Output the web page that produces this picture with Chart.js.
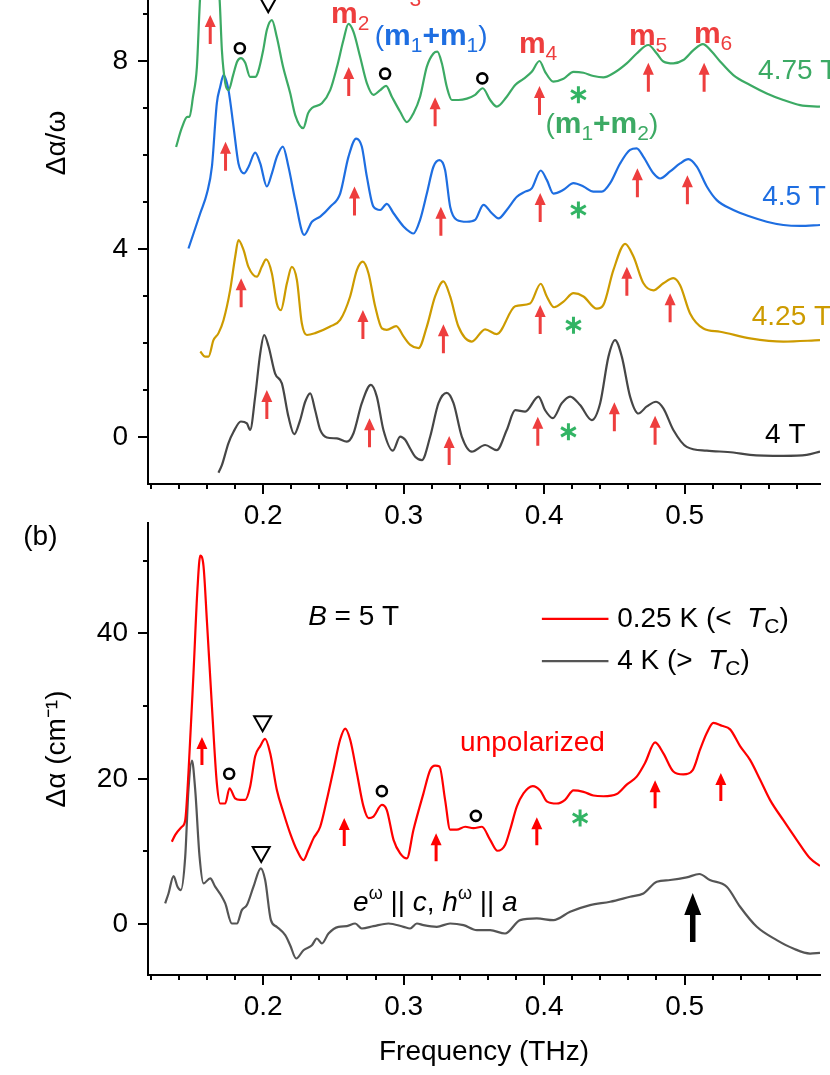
<!DOCTYPE html>
<html>
<head>
<meta charset="utf-8">
<script src="https://cdn.jsdelivr.net/npm/chart.js@4.4.1/dist/chart.umd.min.js"></script>
<style>
  body { margin: 0; background: #fff; width: 830px; height: 1075px; overflow: hidden; position: relative; }
  canvas { position: absolute; left: 0; }
  #chartA { top: -200px; }
  #chartB { top: 505px; }
</style>
</head>
<body>
<canvas id="chartA" width="830" height="735"></canvas>
<canvas id="chartB" width="830" height="570"></canvas>
<script>
const FONT = "'Liberation Sans', Arial, sans-serif"
Chart.defaults.font.family = FONT
Chart.defaults.color = '#000'

// ---------- panel (a): Δα/ω, curves offset by field ----------
const fieldLabels = ['4.75 T', '4.5 T', '4.25 T', '4 T']

const x475 = [0.138,0.142,0.146,0.1475,0.150,0.1528,0.155,0.158,0.162,0.1655,0.169,0.1706,0.173,0.1753,0.1786,0.1815,0.1841,0.1872,0.1907,0.1943,0.1964,0.2,0.2026,0.2062,0.2097,0.2142,0.2192,0.2228,0.2285,0.232,0.2347,0.2418,0.2477,0.2525,0.2572,0.2607,0.2643,0.269,0.2738,0.2785,0.2833,0.2875,0.2916,0.2975,0.3023,0.307,0.3117,0.3165,0.3212,0.324,0.3272,0.3307,0.3343,0.339,0.345,0.3509,0.3563,0.3616,0.3663,0.3734,0.3794,0.3853,0.3912,0.3967,0.4007,0.4066,0.4138,0.4209,0.428,0.4351,0.4422,0.4493,0.4588,0.4659,0.4742,0.4802,0.4849,0.492,0.4991,0.5063,0.513,0.5193,0.5253,0.5347,0.5466,0.5585,0.5703,0.5822,0.5964]
const y475 = [6.17,6.57,6.81,6.81,7.23,7.87,9.3,10.4,10.8,10.3,9.3,8.23,7.53,7.38,7.70,7.99,8.06,7.96,7.66,7.66,7.77,8.23,8.66,8.87,8.51,7.87,7.32,6.85,6.57,6.89,7.0,7.1,7.38,7.87,8.45,8.79,8.62,8.09,7.53,7.28,7.38,7.47,7.24,6.92,6.70,6.89,7.24,7.88,8.16,8.20,7.95,7.45,7.17,7.17,7.2,7.28,7.42,7.17,7.03,7.24,7.49,7.62,7.77,8.0,7.77,7.56,7.62,7.77,7.75,7.68,7.65,7.74,7.95,8.16,8.34,8.16,7.99,7.95,8.02,8.23,8.36,8.20,7.99,7.70,7.49,7.31,7.17,7.06,7.03]

const x450 = [0.1468,0.1504,0.1552,0.16,0.1635,0.167,0.1694,0.1718,0.1753,0.1789,0.1824,0.1865,0.1896,0.1943,0.1979,0.2026,0.2062,0.2097,0.214,0.218,0.2228,0.2292,0.2347,0.2406,0.2477,0.2548,0.2607,0.2662,0.2702,0.2738,0.2785,0.2833,0.288,0.2928,0.2999,0.3046,0.307,0.3117,0.3165,0.3212,0.3255,0.3295,0.3331,0.3378,0.345,0.3509,0.3568,0.3628,0.3675,0.3734,0.3806,0.3865,0.3912,0.3976,0.4019,0.4066,0.4138,0.4209,0.428,0.4351,0.4411,0.447,0.4541,0.4612,0.4659,0.4707,0.4778,0.4826,0.4897,0.4968,0.5027,0.5087,0.5158,0.5229,0.5347,0.5466,0.5585,0.5703,0.5822,0.5964]
const y450 = [4.01,4.33,4.76,5.19,5.75,7.10,7.45,7.70,7.38,6.60,5.82,5.61,5.75,6.05,5.82,5.33,5.61,5.96,6.18,5.75,5.04,4.30,4.58,4.69,4.90,5.18,5.96,6.35,6.18,5.54,4.90,4.83,4.96,4.76,4.48,4.36,4.33,4.62,5.18,5.75,5.89,5.68,4.90,4.62,4.58,4.62,4.94,4.76,4.65,4.83,5.11,5.22,5.29,5.67,5.47,5.18,5.26,5.40,5.33,5.22,5.22,5.40,5.82,6.11,6.14,5.96,5.61,5.50,5.65,5.82,5.91,5.75,5.33,5.04,4.83,4.69,4.58,4.51,4.49,4.51]

const x425 = [0.1552,0.1587,0.1611,0.1646,0.1682,0.1718,0.1765,0.1801,0.1824,0.186,0.1895,0.1955,0.199,0.2021,0.2062,0.2097,0.2126,0.2169,0.2204,0.224,0.2275,0.2311,0.237,0.2477,0.2548,0.2619,0.2667,0.2709,0.275,0.2797,0.2845,0.288,0.2947,0.2999,0.3047,0.3106,0.3165,0.3224,0.3283,0.3331,0.339,0.3485,0.358,0.3663,0.3794,0.39,0.3976,0.4019,0.4071,0.4138,0.4209,0.428,0.4375,0.4422,0.4493,0.4577,0.4636,0.4707,0.4778,0.4849,0.492,0.4968,0.5039,0.5134,0.5253,0.5466,0.5703,0.5964]
const y425 = [1.82,1.71,1.71,2.06,2.21,2.49,3.13,3.84,4.19,3.98,3.62,3.41,3.62,3.78,3.48,2.84,2.70,3.27,3.62,3.34,2.42,2.17,2.21,2.35,2.49,2.99,3.55,3.73,3.48,2.78,2.31,2.28,2.36,2.14,1.96,1.89,2.35,2.99,3.31,2.99,2.35,2.03,2.29,2.19,2.78,2.84,3.26,2.99,2.76,2.88,3.06,2.99,2.73,2.81,3.55,4.11,3.84,3.27,3.12,3.27,3.38,3.23,2.63,2.31,2.24,2.10,2.03,2.06]

const x400 = [0.1682,0.1706,0.1753,0.1789,0.1841,0.1884,0.1907,0.1943,0.1979,0.2007,0.2038,0.2085,0.2133,0.218,0.2221,0.2263,0.2299,0.2335,0.237,0.2406,0.2453,0.2525,0.2596,0.2643,0.2702,0.2767,0.2809,0.2856,0.2923,0.2975,0.3011,0.3047,0.3082,0.313,0.3189,0.3248,0.3307,0.3355,0.3414,0.3485,0.358,0.3663,0.3734,0.3794,0.3865,0.396,0.4007,0.4062,0.4126,0.4185,0.4256,0.4339,0.4399,0.4458,0.4505,0.4553,0.4612,0.4671,0.4731,0.4797,0.4849,0.492,0.5015,0.5158,0.5347,0.5466,0.5703,0.5869,0.5964]
const y400 = [-0.76,-0.60,-0.13,0.11,0.33,0.29,0.15,0.86,1.78,2.17,1.93,1.35,1.14,0.43,0.06,0.36,0.75,0.93,0.57,0.15,-0.01,-0.03,-0.10,0.08,0.72,1.11,0.86,0.15,-0.29,0.01,-0.06,-0.25,-0.42,-0.49,0.01,0.72,0.94,0.72,0.01,-0.31,-0.17,-0.28,0.15,0.57,0.54,0.86,0.57,0.40,0.72,0.86,0.68,0.36,0.72,1.71,2.06,1.71,0.86,0.50,0.65,0.75,0.61,0.15,-0.21,-0.29,-0.33,-0.38,-0.40,-0.38,-0.31]

// ---------- panel (b): Δα at B = 5 T ----------
const tempLabels = ['0.25 K', '4 K']

const xCold = [0.135,0.1374,0.1421,0.1445,0.1468,0.1504,0.1532,0.1552,0.1575,0.16,0.1635,0.167,0.1694,0.173,0.176,0.18,0.1836,0.1872,0.1907,0.1943,0.1979,0.2014,0.205,0.2097,0.2145,0.2192,0.224,0.2287,0.2322,0.2358,0.2406,0.2453,0.25,0.2548,0.2584,0.2619,0.2667,0.2714,0.275,0.2785,0.2845,0.288,0.2928,0.2975,0.3023,0.307,0.3141,0.3189,0.3224,0.3255,0.3295,0.3331,0.3378,0.3438,0.3497,0.3557,0.3616,0.3668,0.3722,0.3758,0.3806,0.3853,0.3919,0.3972,0.4019,0.409,0.4149,0.4209,0.428,0.4351,0.4422,0.4517,0.4588,0.4659,0.4719,0.479,0.4849,0.492,0.4991,0.5058,0.511,0.5158,0.5205,0.5265,0.5324,0.5395,0.5466,0.5537,0.5608,0.5703,0.5798,0.5893,0.5964]
const yCold = [11.35,12.28,13.4,14.3,20.8,34.6,46.1,50.7,49.3,41.5,30.0,19.4,16.6,16.6,18.7,17.3,17.1,17.1,18.9,23.1,24.5,25.5,23.5,18.5,15.3,12.5,10.2,8.8,10.2,11.8,13.4,17.1,21.2,25.4,26.9,25.4,20.8,16.2,14.6,14.8,16.4,15.7,11.6,9.75,9.05,13.0,18.0,21.2,21.8,21.7,17.1,13.0,13.0,13.4,13.2,13.4,11.6,10.1,10.9,13.0,16.2,18.0,19.0,18.4,16.9,16.6,17.1,18.4,18.2,17.7,17.6,17.9,19.2,20.3,22.2,25.0,23.5,21.0,20.6,21.2,24.0,26.3,27.7,27.3,26.8,24.5,22.6,19.9,17.1,14.3,11.6,9.05,8.0]

const xWarm = [0.1302,0.1326,0.1362,0.139,0.1414,0.1445,0.1468,0.1493,0.1516,0.1547,0.1575,0.1623,0.1658,0.1706,0.173,0.1777,0.1813,0.1848,0.1884,0.1931,0.1983,0.2014,0.2055,0.2097,0.2157,0.2192,0.2235,0.2287,0.2347,0.2382,0.2418,0.2465,0.2536,0.2596,0.2655,0.2702,0.2785,0.2892,0.2999,0.3046,0.3094,0.3141,0.3236,0.3331,0.3426,0.3521,0.3616,0.3722,0.3829,0.3948,0.4066,0.4185,0.4327,0.447,0.4612,0.4707,0.4802,0.4897,0.5015,0.5105,0.518,0.53,0.5395,0.5514,0.5656,0.5774,0.5893,0.5964]
const yWarm = [2.85,4.22,6.62,5.15,4.69,9.28,18.5,22.5,18.5,9.28,5.6,6.3,5.15,3.77,2.85,0.09,0.09,1.93,2.62,5.15,7.68,6.07,0.55,-0.37,-1.52,-2.9,-4.73,-3.59,-2.9,-1.98,-2.66,-1.29,-0.37,-0.28,0.09,-0.6,-0.28,0.09,-0.37,-0.6,0.09,-0.14,-0.37,0.09,-0.14,-0.83,-0.83,-1.29,0.55,0.78,0.55,1.7,2.62,3.08,3.77,4.22,5.83,6.07,6.43,6.9,6.07,5.15,2.39,-0.37,-2.2,-3.36,-4.05,-3.96]

// tick labels
const freqTicks = [0.2, 0.3, 0.4, 0.5]
const aTicks = [0, 4, 8]
const bTicks = [0, 20, 40]

// markers (data units): arrow tips, circles, triangles, asterisks
const aArrows = [[0.1623,8.98],[0.2609,7.87],[0.3224,7.23],[0.3967,7.47],[0.4742,7.96],[0.5139,7.96],
  [0.1732,6.28],[0.265,5.33],[0.3265,4.90],[0.3972,5.19],[0.4664,5.72],[0.502,5.57],
  [0.1843,3.38],[0.271,2.70],[0.3283,2.40],[0.3972,2.81],[0.4589,3.62],[0.4897,3.06],
  [0.2026,1.0],[0.2757,0.40],[0.3324,0.02],[0.3955,0.43],[0.45,0.74],[0.479,0.45]]
const aStars = [[0.4244,7.28],[0.4244,4.83],[0.4209,2.38],[0.4173,0.11]]
const aCircles = [[0.1834,8.27],[0.2868,7.73],[0.356,7.63]]
const aTriangles = [[0.2036,9.21]]

const bArrows = [[0.1564,25.75],[0.2577,14.6],[0.3231,12.5],[0.3948,14.7],[0.479,19.8],[0.5258,20.8]]
const bCircles = [[0.1758,20.7],[0.2845,18.3],[0.3514,14.9]]
const bTriangles = [[0.1996,27.66],[0.1986,9.66]]
const bStars = [[0.4256,14.6]]
const bBigArrow = [0.5058, 4.28]

const GREEN = 'rgb(60,170,100)', BLUE = 'rgb(30,110,225)', GOLD = 'rgb(205,155,0)', DARK = 'rgb(70,70,70)'
const RED = 'rgb(255,0,0)', GRAY = 'rgb(85,85,85)', ARROW = 'rgb(238,62,62)', STAR = 'rgb(50,180,100)'

const pts = (xs, ys) => xs.map((x, i) => ({x: x, y: ys[i]}))
const line = (label, xs, ys, color) => ({
    label: label, data: pts(xs, ys), borderColor: color, borderWidth: 2.2,
    pointRadius: 0, cubicInterpolationMode: 'monotone', fill: false
})

// ---------- drawing helpers ----------
function rich(ctx, parts, x, y, align) {
    let w = 0
    parts.forEach(p => { ctx.font = p[1]; w += ctx.measureText(p[0]).width })
    let cx = align === 'center' ? x - w / 2 : x
    parts.forEach(p => {
        ctx.font = p[1]
        ctx.fillText(p[0], cx, y + (p[2] || 0))
        cx += ctx.measureText(p[0]).width
    })
}

function upArrow(ctx, px, py, len, headW, headL, shaftW, color) {
    ctx.fillStyle = color
    ctx.beginPath()
    ctx.moveTo(px, py)
    ctx.lineTo(px + headW / 2, py + headL)
    ctx.lineTo(px + shaftW / 2, py + headL)
    ctx.lineTo(px + shaftW / 2, py + len)
    ctx.lineTo(px - shaftW / 2, py + len)
    ctx.lineTo(px - shaftW / 2, py + headL)
    ctx.lineTo(px - headW / 2, py + headL)
    ctx.closePath()
    ctx.fill()
}

function circle(ctx, px, py) {
    ctx.strokeStyle = '#000'; ctx.lineWidth = 2.6
    ctx.beginPath(); ctx.arc(px, py, 5, 0, Math.PI * 2); ctx.stroke()
}

function triangle(ctx, px, py) {
    ctx.strokeStyle = '#000'; ctx.lineWidth = 2
    ctx.beginPath()
    ctx.moveTo(px - 8.5, py - 7); ctx.lineTo(px + 8.5, py - 7); ctx.lineTo(px, py + 8)
    ctx.closePath(); ctx.stroke()
}

function star(ctx, px, py) {
    ctx.strokeStyle = STAR; ctx.lineWidth = 3
    ctx.beginPath()
    for (let k = 0; k < 3; k++) {
        const a = Math.PI / 2 + k * Math.PI / 3
        ctx.moveTo(px - 8.5 * Math.cos(a), py - 8.5 * Math.sin(a))
        ctx.lineTo(px + 8.5 * Math.cos(a), py + 8.5 * Math.sin(a))
    }
    ctx.stroke()
}

const B28 = 'bold 30px ' + FONT, N28 = '28px ' + FONT, I28 = 'italic 28px ' + FONT
const SUB = '21px ' + FONT

// outward tick marks, major and minor
function tickMarks(chart, o) {
    const {ctx, chartArea: a, scales: {x, y}} = chart
    ctx.save()
    ctx.strokeStyle = '#000'; ctx.lineWidth = 2
    ctx.beginPath()
    for (let i = 0; ; i++) {
        const v = o.xFrom + i * o.xStep
        if (v > x.max + 1e-9) break
        const p = Math.round(x.getPixelForValue(v))
        const major = Math.abs(v / o.xMajor - Math.round(v / o.xMajor)) < 1e-6
        ctx.moveTo(p, a.bottom); ctx.lineTo(p, a.bottom + (major ? 10 : 5))
    }
    for (let i = 0; ; i++) {
        const v = o.yFrom + i * o.yStep
        if (v > y.max + 1e-9) break
        const p = Math.round(y.getPixelForValue(v))
        const major = Math.abs(v / o.yMajor - Math.round(v / o.yMajor)) < 1e-6
        ctx.moveTo(a.left, p); ctx.lineTo(a.left - (major ? 10 : 5), p)
    }
    ctx.stroke()
    ctx.restore()
}

function marksA(chart) {
    const {ctx, scales: {x, y}} = chart
    const X = v => x.getPixelForValue(v), Y = v => y.getPixelForValue(v)
    tickMarks(chart, {xFrom: 0.12, xStep: 0.02, xMajor: 0.1, yFrom: 0, yStep: 1, yMajor: 4})
    ctx.save()
    aArrows.forEach(p => upArrow(ctx, X(p[0]), Y(p[1]), 29, 11, 12, 3, ARROW))
    aStars.forEach(p => star(ctx, X(p[0]), Y(p[1])))
    aCircles.forEach(p => circle(ctx, X(p[0]), Y(p[1])))
    aTriangles.forEach(p => triangle(ctx, X(p[0]), Y(p[1])))

    ctx.textAlign = 'left'; ctx.textBaseline = 'alphabetic'
    ctx.fillStyle = ARROW
    const mLabels = [['2', 0.2619, 8.81], ['3', 0.2989, 9.32], ['4', 0.3957, 8.17], ['5', 0.474, 8.34], ['6', 0.5203, 8.38]]
    mLabels.forEach(m => rich(ctx, [['m', B28], [m[0], SUB, 7]], X(m[1]), Y(m[2]), 'center'))
    ctx.fillStyle = BLUE
    rich(ctx, [['(', N28], ['m', B28], ['1', SUB, 7], ['+m', B28], ['1', SUB, 7], [')', N28]], X(0.3196), Y(8.34), 'center')
    ctx.fillStyle = GREEN
    rich(ctx, [['(', N28], ['m', B28], ['1', SUB, 7], ['+m', B28], ['2', SUB, 7], [')', N28]], X(0.4411), Y(6.47), 'center')

    ctx.font = N28; ctx.textBaseline = 'middle'
    const labelPos = [[0.5523, 7.79, GREEN], [0.5552, 5.11, BLUE], [0.5478, 2.55, GOLD], [0.5573, 0.04, '#000']]
    fieldLabels.forEach((t, i) => {
        ctx.fillStyle = labelPos[i][2]
        ctx.fillText(t, X(labelPos[i][0]), Y(labelPos[i][1]))
    })
    ctx.restore()
}

function marksB(chart) {
    const {ctx, scales: {x, y}} = chart
    const X = v => x.getPixelForValue(v), Y = v => y.getPixelForValue(v)
    tickMarks(chart, {xFrom: 0.12, xStep: 0.02, xMajor: 0.1, yFrom: 0, yStep: 10, yMajor: 20})
    ctx.save()
    bArrows.forEach(p => upArrow(ctx, X(p[0]), Y(p[1]), 28, 11, 12, 3, RED))
    upArrow(ctx, X(bBigArrow[0]), Y(bBigArrow[1]), 49, 17, 22, 5.5, '#000')
    bStars.forEach(p => star(ctx, X(p[0]), Y(p[1])))
    bCircles.forEach(p => circle(ctx, X(p[0]), Y(p[1])))
    bTriangles.forEach(p => triangle(ctx, X(p[0]), Y(p[1])))

    ctx.textAlign = 'left'; ctx.textBaseline = 'middle'
    ctx.fillStyle = '#000'
    ctx.font = N28
    ctx.fillText('(b)', X(0.0292), Y(53.2))
    rich(ctx, [['B', I28], [' = 5 T', N28]], X(0.232), Y(42.2))

    // legend
    const legend = [[RED, 42.0, [[tempLabels[0] + ' (<  ', N28], ['T', I28], ['C', SUB, 8], [')', N28]]],
                    [GRAY, 36.2, [[tempLabels[1] + ' (>  ', N28], ['T', I28], ['C', SUB, 8], [')', N28]]]]
    legend.forEach(l => {
        ctx.strokeStyle = l[0]; ctx.lineWidth = 2.2
        ctx.beginPath(); ctx.moveTo(X(0.3984), Y(l[1])); ctx.lineTo(X(0.4458), Y(l[1])); ctx.stroke()
        ctx.fillStyle = '#000'
        rich(ctx, l[2], X(0.452), Y(l[1]))
    })

    ctx.fillStyle = RED; ctx.font = N28
    ctx.fillText('unpolarized', X(0.3402), Y(24.9))
    ctx.fillStyle = '#000'
    const W = '18px ' + FONT
    rich(ctx, [['e', I28], ['ω', W, -9], [' || ', N28], ['c', I28], [', ', N28], ['h', I28], ['ω', W, -9], [' || ', N28], ['a', I28]], X(0.264), Y(2.9))
    ctx.restore()
}

function scales(yTicks, yMin, yMax, yTitle, xHeight, xTitle) {
    const noPad = s => { s.paddingTop = 0; s.paddingBottom = 0; s.paddingLeft = 0; s.paddingRight = 0 }
    return {
        x: {
            type: 'linear', min: 0.118, max: 0.5964,
            grid: {display: false, drawTicks: false},
            border: {display: true, color: '#000', width: 2},
            afterBuildTicks: s => { s.ticks = freqTicks.map(v => ({value: v})) },
            afterFit: s => { s.height = xHeight; noPad(s) },
            ticks: {padding: 15, font: {size: 28}, color: '#000', maxRotation: 0, autoSkip: false, callback: v => v.toFixed(1)},
            title: {display: !!xTitle, text: xTitle, font: {size: 28}, color: '#000', padding: {top: 0, bottom: 6}}
        },
        y: {
            type: 'linear', min: yMin, max: yMax,
            grid: {display: false, drawTicks: false},
            border: {display: true, color: '#000', width: 2},
            afterBuildTicks: s => { s.ticks = yTicks.map(v => ({value: v})) },
            afterFit: s => { s.width = 148; noPad(s) },
            ticks: {padding: 20, font: {size: 28}, color: '#000', autoSkip: false, callback: v => String(v)},
            title: {display: true, text: yTitle, font: {size: 28}, color: '#000', padding: {top: 40, bottom: 0}}
        }
    }
}

const common = {
    responsive: false, animation: false, devicePixelRatio: 1,
    plugins: {legend: {display: false}, tooltip: {enabled: false}}
}

new Chart(document.getElementById('chartA'), {
    type: 'line',
    data: {
        datasets: [
            line(fieldLabels[0], x475, y475, GREEN),
            line(fieldLabels[1], x450, y450, BLUE),
            line(fieldLabels[2], x425, y425, GOLD),
            line(fieldLabels[3], x400, y400, DARK)
        ]
    },
    options: Object.assign({}, common, {
        layout: {padding: {top: 2, right: 10, left: 0, bottom: 0}},
        scales: scales(aTicks, -1, 13.51, 'Δα/ω', 51, '')
    }),
    plugins: [{id: 'marksA', afterDraw: marksA}]
})

new Chart(document.getElementById('chartB'), {
    type: 'line',
    data: {
        datasets: [
            line(tempLabels[0], xCold, yCold, RED),
            line(tempLabels[1], xWarm, yWarm, GRAY)
        ]
    },
    options: Object.assign({}, common, {
        layout: {padding: {top: 18, right: 10, left: 0, bottom: 0}},
        scales: scales(bTicks, -7, 55.2, 'Δα (cm⁻¹)', 100, 'Frequency (THz)')
    }),
    plugins: [{id: 'marksB', afterDraw: marksB}]
})
</script>
</body>
</html>
